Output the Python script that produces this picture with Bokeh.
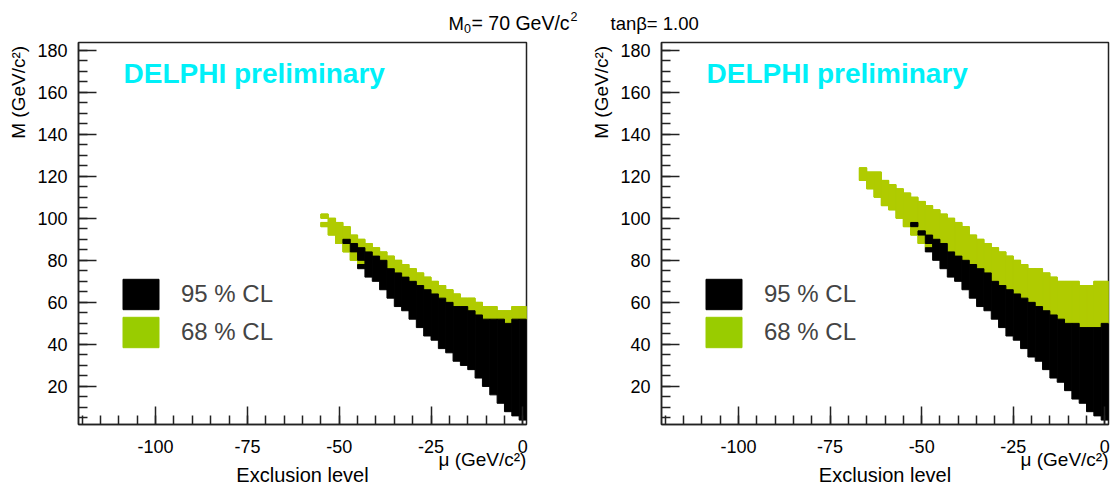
import math
from bokeh.plotting import figure
from bokeh.models import (Range1d, FixedTicker, Label, Legend, LegendItem, ColumnDataSource,
                          LinearAxis)
from bokeh.layouts import column, row
from bokeh.embed import file_html
from bokeh.resources import INLINE

# ---------------- data ----------------
title_parts = ["M", "0", "= 70 GeV/c", "2", "tan\u03b2= 1.00"]
x_major = [-100, -75, -50, -25, 0]
x_major_labels = ["-100", "-75", "-50", "-25", "0"]
x_minor = list(range(-120, 1, 5))
y_major = [20, 40, 60, 80, 100, 120, 140, 160, 180]
y_minor = list(range(5, 181, 5))
cl_labels = ["95 % CL", "68 % CL"]
x_title = "\u03bc (GeV/c\u00b2)"
y_title = "M (GeV/c\u00b2)"
sub_title = "Exclusion level"
stamp = "DELPHI preliminary"

# left panel: 68 % CL cells (mu bin centre, M low, M high)
left_green_mu = [-54, -54, -52, -50, -48, -48, -46, -46, -44, -44, -42, -40, -38, -36, -34, -32,
                 -30, -28, -26, -24, -22, -20, -18, -16, -14, -12, -10, -8, -6, -4, -2, 0]
left_green_lo = [100, 96, 92, 88, 90, 84, 88, 80, 86, 78, 84, 82, 80, 76, 74, 72,
                 70, 68, 66, 64, 62, 60, 58, 58, 56, 54, 52, 52, 52, 50, 52, 52]
left_green_hi = [102, 98, 100, 98, 96, 88, 92, 84, 90, 80, 88, 86, 84, 82, 80, 78,
                 76, 74, 72, 70, 68, 66, 64, 62, 62, 60, 58, 58, 56, 56, 58, 58]
# left panel: 95 % CL cells
left_black_mu = [-48, -46, -44, -44, -42, -40, -38, -36, -34, -32, -30, -28, -26, -24, -22,
                 -20, -18, -16, -14, -12, -10, -8, -6, -4, -2, 0]
left_black_lo = [88, 84, 80, 76, 72, 70, 66, 62, 58, 56, 52, 48, 44, 42, 38,
                 36, 32, 30, 28, 24, 20, 16, 12, 8, 6, 4]
left_black_hi = [90, 88, 86, 78, 84, 82, 80, 76, 74, 72, 70, 68, 66, 64, 62,
                 60, 58, 58, 56, 54, 52, 52, 52, 50, 52, 52]

# right panel: 68 % CL cells
right_green_mu = [-66, -64, -62, -60, -58, -56, -54, -52, -52, -50, -50, -48, -48, -46, -44, -42,
                  -40, -38, -36, -34, -32, -30, -28, -26, -24, -22, -20, -18, -16, -14, -12,
                  -10, -8, -6, -4, -2, 0]
right_green_lo = [118, 114, 110, 106, 104, 100, 96, 98, 92, 94, 88, 92, 86, 90, 88, 84,
                  82, 80, 78, 76, 74, 70, 68, 66, 64, 62, 60, 58, 56, 54, 52,
                  50, 50, 48, 48, 48, 50]
right_green_hi = [124, 122, 122, 118, 116, 114, 112, 110, 96, 108, 92, 106, 88, 104, 102, 100,
                  98, 96, 92, 90, 88, 86, 84, 82, 80, 78, 76, 76, 74, 72, 70,
                  70, 70, 68, 68, 70, 70]
# right panel: 95 % CL cells
right_black_mu = [-52, -50, -48, -48, -46, -44, -42, -40, -38, -36, -34, -32, -30, -28, -26,
                  -24, -22, -20, -18, -16, -14, -12, -10, -8, -6, -4, -2, 0]
right_black_lo = [96, 92, 88, 84, 80, 76, 72, 70, 66, 62, 58, 56, 52, 48, 44,
                  42, 38, 34, 32, 28, 24, 22, 18, 14, 12, 8, 6, 4]
right_black_hi = [98, 94, 92, 86, 90, 88, 84, 82, 80, 78, 76, 74, 70, 68, 66,
                  64, 62, 60, 58, 56, 54, 52, 50, 50, 48, 48, 48, 50]

# ---------------- style ----------------
FONT = "Liberation Sans"
GREEN = "#b0cb00"
GREEN_LEG = "#99cc00"
CYAN = "#00f0f8"
INK = "#222222"
X0, X1 = -121, 1
Y0, Y1 = 1.9, 183.6
FH = 382          # frame height in px
TOP_H = 36        # title strip
MID_H = 489 - TOP_H
BIN = 2
BASE_FIX = 0.25   # baseline correction (fraction of font size)
MU_LABEL_AT = -11       # x where the mu axis title is centred (right end at frame edge)
SUB_LABEL_AT = -60      # x where "Exclusion level" is centred


def text_fig(w, h):
    f = figure(width=w, height=h, x_range=Range1d(0, w), y_range=Range1d(h, 0),
               toolbar_location=None, output_backend="svg", x_axis_type=None,
               y_axis_type=None, min_border=0)
    f.outline_line_color = None
    f.xgrid.visible = False
    f.ygrid.visible = False
    f.background_fill_color = "white"
    f.border_fill_color = "white"
    return f


def lab(f, x, y, text, size, align="left", baseline="alphabetic", angle=0.0,
        color="black", style="normal"):
    if baseline == "alphabetic":
        y = y - BASE_FIX * size
    f.add_layout(Label(x=x, y=y, text=text, text_font=FONT, text_font_size=f"{size}px",
                       text_align=align, text_baseline=baseline, angle=angle,
                       text_color=color, text_font_style=style))


def title_axis(p, at, text, size, standoff):
    ax = LinearAxis(ticker=FixedTicker(ticks=[at], minor_ticks=[]),
                    major_label_overrides={at: text})
    ax.axis_line_color = None
    ax.major_tick_line_color = None
    ax.minor_tick_line_color = None
    ax.major_tick_out = 0
    ax.major_tick_in = 0
    ax.major_label_standoff = standoff
    ax.major_label_text_font = FONT
    ax.major_label_text_font_size = f"{size}px"
    ax.major_label_text_color = "black"
    p.add_layout(ax, "below")


def panel(gmu, glo, ghi, bmu, blo, bhi, width, bl, br):
    fw = width - bl - br
    top_b = 42 - TOP_H
    p = figure(width=width, height=MID_H, x_range=Range1d(X0, X1), y_range=Range1d(Y0, Y1),
               toolbar_location=None, output_backend="svg",
               min_border_left=bl, min_border_right=br, min_border_top=top_b,
               min_border_bottom=MID_H - top_b - FH)
    p.xgrid.visible = False
    p.ygrid.visible = False
    p.outline_line_color = INK
    p.outline_line_width = 1.5
    p.background_fill_color = "white"
    p.border_fill_color = "white"

    def dx(px):
        return X0 + px * (X1 - X0) / fw

    def dy(py):
        return Y1 - py * (Y1 - Y0) / FH

    gsrc = ColumnDataSource(dict(left=[m - BIN / 2 for m in gmu], right=[m + BIN / 2 for m in gmu],
                                 bottom=glo, top=ghi))
    bsrc = ColumnDataSource(dict(left=[m - BIN / 2 for m in bmu], right=[m + BIN / 2 for m in bmu],
                                 bottom=blo, top=bhi))
    # legend swatch renderer for 68 % (hidden underneath the cells)
    lg = p.quad(left="left", right="right", bottom="bottom", top="top", source=gsrc,
                fill_color=GREEN_LEG, line_color=GREEN_LEG, line_width=1)
    p.quad(left="left", right="right", bottom="bottom", top="top", source=gsrc,
           fill_color=GREEN, line_color=GREEN, line_width=1)
    lb = p.quad(left="left", right="right", bottom="bottom", top="top", source=bsrc,
                fill_color="black", line_color="black", line_width=1)

    p.xaxis.ticker = FixedTicker(ticks=x_major, minor_ticks=x_minor)
    p.xaxis.major_label_overrides = dict(zip(x_major, x_major_labels))
    p.yaxis.ticker = FixedTicker(ticks=y_major, minor_ticks=y_minor)
    for ax in (p.xaxis[0], p.yaxis[0]):
        ax.major_tick_in = 18
        ax.major_tick_out = 0
        ax.minor_tick_in = 9
        ax.minor_tick_out = 0
        ax.major_tick_line_width = 1.5
        ax.minor_tick_line_width = 1.5
        ax.major_tick_line_color = INK
        ax.minor_tick_line_color = INK
        ax.axis_line_color = INK
        ax.axis_line_width = 1.5
        ax.major_label_text_font = FONT
        ax.major_label_text_font_size = "18px"
        ax.major_label_text_color = "black"
    p.xaxis[0].major_label_standoff = 15
    p.yaxis[0].major_label_standoff = 11

    # axis titles as extra label-only axes below the tick labels
    title_axis(p, MU_LABEL_AT, x_title, 19, -7)
    title_axis(p, SUB_LABEL_AT, sub_title, 20, -9)

    leg = Legend(items=[LegendItem(label=cl_labels[0], renderers=[lb]),
                        LegendItem(label=cl_labels[1], renderers=[lg])],
                 location=(40, 73), padding=0, margin=0, spacing=0,
                 glyph_width=45, glyph_height=38, label_standoff=18,
                 label_text_font=FONT, label_text_font_size="24px",
                 border_line_color=None, background_fill_alpha=0)
    p.add_layout(leg)

    p.add_layout(Label(x=dx(45), y=dy(38 - BASE_FIX * 28), text=stamp, text_font=FONT,
                       text_font_style="bold", text_font_size="28px", text_color=CYAN,
                       text_baseline="alphabetic"))
    return p


# title strip (baselines in px from the top of the page)
ptop = text_fig(1118, TOP_H)
lab(ptop, 448, 27.5, title_parts[0], 18.5)
lab(ptop, 463.5, 31, title_parts[1], 12.5)
lab(ptop, 471, 27.5, title_parts[2], 19.5)
lab(ptop, 570, 19.5, title_parts[3], 12.5)
lab(ptop, 610, 27.5, title_parts[4], 18.5)

# panel strip
yt1 = text_fig(30, MID_H)
lab(yt1, 18, 4, y_title, 19, align="right", baseline="middle", angle=math.pi / 2)
p1 = panel(left_green_mu, left_green_lo, left_green_hi,
           left_black_mu, left_black_lo, left_black_hi, 529, 48, 33)
yt2 = text_fig(55, MID_H)
lab(yt2, 42, 4, y_title, 19, align="right", baseline="middle", angle=math.pi / 2)
p2 = panel(right_green_mu, right_green_lo, right_green_hi,
           right_black_mu, right_black_lo, right_black_hi, 504, 47, 10)

layout = column(ptop, row(yt1, p1, yt2, p2))
open("out.html", "w").write(file_html(layout, INLINE))
